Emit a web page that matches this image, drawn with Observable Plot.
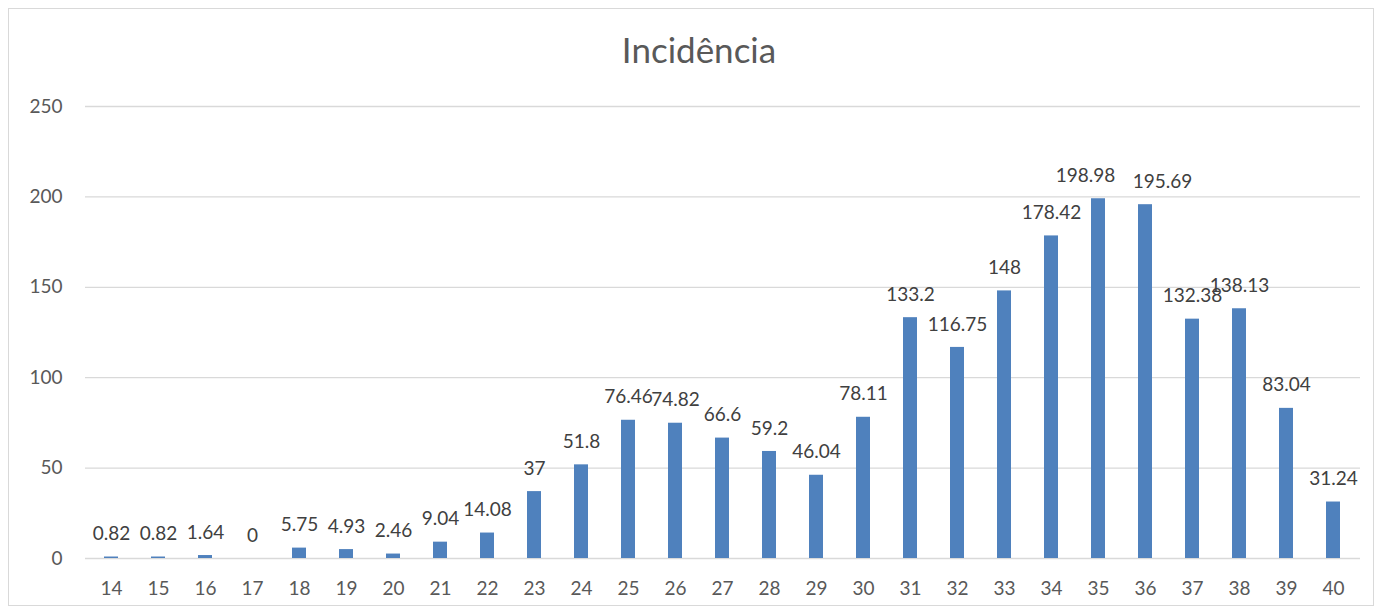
<!DOCTYPE html>
<html>
<head>
<meta charset="utf-8">
<script src="https://cdn.jsdelivr.net/npm/d3@7"></script>
<script src="https://cdn.jsdelivr.net/npm/@observablehq/plot@0.6"></script>
<style>
  html, body { margin: 0; padding: 0; background: #fff; }
  #wrap { position: relative; width: 1383px; height: 615px; }
  #frame { position: absolute; left: 8px; top: 8px; width: 1366px; height: 598px; border: 1px solid #d9d9d9; box-sizing: border-box; pointer-events: none; }
  #chart { position: absolute; left: 0; top: 0; }
</style>
</head>
<body>
<div id="wrap"><div id="chart"></div><div id="frame"></div></div>
<script>
const title = "Incidência";
const weeks = ["14","15","16","17","18","19","20","21","22","23","24","25","26","27","28","29","30","31","32","33","34","35","36","37","38","39","40"];
const values = [0.82,0.82,1.64,0,5.75,4.93,2.46,9.04,14.08,37,51.8,76.46,74.82,66.6,59.2,46.04,78.11,133.2,116.75,148,178.42,198.98,195.69,132.38,138.13,83.04,31.24];
const yTicks = [0,50,100,150,200,250];

const data = weeks.map((w, i) => ({week: w, value: values[i]}));
const font = "Lato, 'Open Sans', sans-serif";
const textColor = "#595959";

// Label nudges (as Excel shifted crowded labels sideways)
const nudged = {"35": -13, "36": 17};
const labelStyle = {x: "week", y: "value", text: d => String(d.value), dy: -23, fill: "#404040", fontSize: 19, lineAnchor: "middle"};

const chart = Plot.plot({
  width: 1383,
  height: 615,
  marginLeft: 85,
  marginRight: 23,
  marginTop: 106,
  marginBottom: 57,
  style: {fontFamily: font, fontSize: "19px", color: textColor, background: "transparent"},
  x: {domain: weeks, paddingInner: 0.7, paddingOuter: 0.35, label: null},
  y: {domain: [0, 250], ticks: yTicks, label: null},
  marks: [
    Plot.gridY(yTicks, {stroke: "#d9d9d9", strokeOpacity: 1, strokeWidth: 1.3}),
    Plot.barY(data, {x: "week", y: "value", fill: "#4f81bd"}),
    Plot.text(data.filter(d => !(d.week in nudged)), labelStyle),
    ...Object.entries(nudged).map(([w, dx]) =>
      Plot.text(data.filter(d => d.week === w), {...labelStyle, dx})),
    Plot.text([title], {frameAnchor: "top", dx: -24, dy: -55, fontSize: 35, fontWeight: 400, fill: textColor, lineAnchor: "middle"}),
    Plot.axisX({tickSize: 0, tickPadding: 23, fontSize: 19, fill: textColor, label: null}),
    Plot.axisY(yTicks, {tickSize: 0, tickPadding: 23, fontSize: 19, fill: textColor, label: null})
  ]
});
document.getElementById("chart").appendChild(chart);
</script>
</body>
</html>
